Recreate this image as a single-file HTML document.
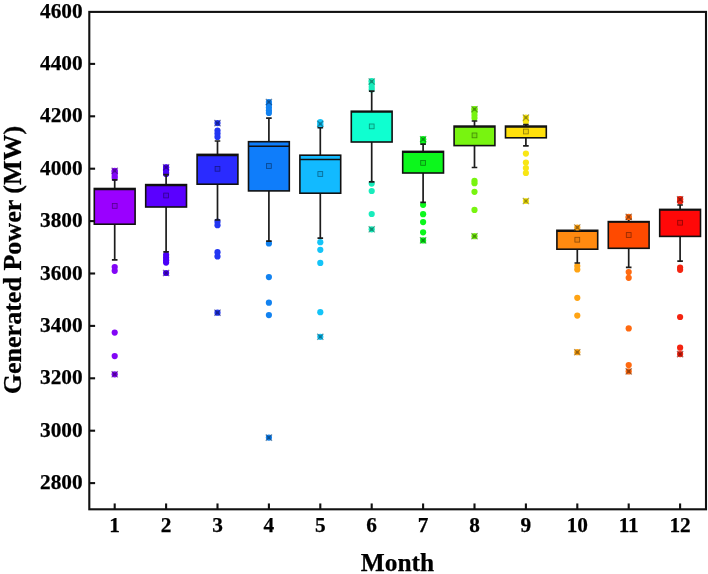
<!DOCTYPE html>
<html><head><meta charset="utf-8"><title>Generated Power by Month</title>
<style>
html,body{margin:0;padding:0;background:#fff;}
body{width:708px;height:574px;position:relative;overflow:hidden;font-family:"Liberation Serif",serif;}
.t{font-family:"Liberation Serif",serif;font-weight:bold;fill:#000;stroke:#000;stroke-width:0.25px;}
</style></head><body>
<svg width="708" height="574" viewBox="0 0 708 574" style="position:absolute;left:0;top:0;filter:blur(0.4px)">
<rect x="0" y="0" width="708" height="574" fill="#fff"/>
<circle cx="114.7" cy="171.5" r="3.1" fill="#8206f6"/>
<circle cx="114.7" cy="173.5" r="3.1" fill="#8206f6"/>
<circle cx="114.7" cy="176.0" r="3.1" fill="#8206f6"/>
<circle cx="114.7" cy="178.0" r="3.1" fill="#8206f6"/>
<circle cx="114.7" cy="267.0" r="3.1" fill="#8206f6"/>
<circle cx="114.7" cy="270.8" r="3.1" fill="#8206f6"/>
<circle cx="114.7" cy="332.6" r="3.1" fill="#8206f6"/>
<circle cx="114.7" cy="356.1" r="3.1" fill="#8206f6"/>
<path d="M114.7 179.8V188.5M114.7 224.2V259.9M111.9 179.8h5.6M111.9 259.9h5.6" stroke="#1c1c1c" stroke-width="1.7" fill="none"/>
<rect x="94.3" y="188.5" width="40.8" height="35.7" fill="#9a00ff" stroke="#111" stroke-width="1.6"/>
<path d="M94.3 189.4h40.8" stroke="#111" stroke-width="1.5"/>
<rect x="112.3" y="203.5" width="4.8" height="4.8" fill="#54008c" fill-opacity="0.15" stroke="#54008c" stroke-width="0.8"/>
<circle cx="114.7" cy="170.8" r="3.1" fill="#8206f6"/>
<path d="M111.6 167.7l6.2 6.2M111.6 173.9l6.2 -6.2" stroke="#41037b" stroke-width="1.3" stroke-opacity="0.6" fill="none"/>
<circle cx="114.7" cy="170.8" r="1.7" fill="#41037b" fill-opacity="0.5"/>
<circle cx="114.7" cy="374.3" r="3.1" fill="#8206f6"/>
<path d="M111.6 371.2l6.2 6.2M111.6 377.4l6.2 -6.2" stroke="#41037b" stroke-width="1.3" stroke-opacity="0.6" fill="none"/>
<circle cx="114.7" cy="374.3" r="1.7" fill="#41037b" fill-opacity="0.5"/>
<circle cx="166.1" cy="167.5" r="3.1" fill="#4a00f8"/>
<circle cx="166.1" cy="170.0" r="3.1" fill="#4a00f8"/>
<circle cx="166.1" cy="172.5" r="3.1" fill="#4a00f8"/>
<circle cx="166.1" cy="174.0" r="3.1" fill="#4a00f8"/>
<circle cx="166.1" cy="254.8" r="3.1" fill="#4a00f8"/>
<circle cx="166.1" cy="257.5" r="3.1" fill="#4a00f8"/>
<circle cx="166.1" cy="260.2" r="3.1" fill="#4a00f8"/>
<circle cx="166.1" cy="262.6" r="3.1" fill="#4a00f8"/>
<path d="M166.1 174.6V184.6M166.1 207.0V251.8M163.3 174.6h5.6M163.3 251.8h5.6" stroke="#1c1c1c" stroke-width="1.7" fill="none"/>
<rect x="145.7" y="184.6" width="40.8" height="22.4" fill="#5a00ff" stroke="#111" stroke-width="1.6"/>
<path d="M145.7 185.4h40.8" stroke="#111" stroke-width="1.5"/>
<rect x="163.7" y="193.1" width="4.8" height="4.8" fill="#31008c" fill-opacity="0.15" stroke="#31008c" stroke-width="0.8"/>
<circle cx="166.1" cy="167.3" r="3.1" fill="#4a00f8"/>
<path d="M163.0 164.2l6.2 6.2M163.0 170.4l6.2 -6.2" stroke="#25007c" stroke-width="1.3" stroke-opacity="0.6" fill="none"/>
<circle cx="166.1" cy="167.3" r="1.7" fill="#25007c" fill-opacity="0.5"/>
<circle cx="166.1" cy="273.0" r="3.1" fill="#4a00f8"/>
<path d="M163.0 269.9l6.2 6.2M163.0 276.1l6.2 -6.2" stroke="#25007c" stroke-width="1.3" stroke-opacity="0.6" fill="none"/>
<circle cx="166.1" cy="273.0" r="1.7" fill="#25007c" fill-opacity="0.5"/>
<circle cx="217.5" cy="130.6" r="3.1" fill="#2236f2"/>
<circle cx="217.5" cy="133.6" r="3.1" fill="#2236f2"/>
<circle cx="217.5" cy="136.9" r="3.1" fill="#2236f2"/>
<circle cx="217.5" cy="221.7" r="3.1" fill="#2236f2"/>
<circle cx="217.5" cy="225.2" r="3.1" fill="#2236f2"/>
<circle cx="217.5" cy="252.2" r="3.1" fill="#2236f2"/>
<circle cx="217.5" cy="256.4" r="3.1" fill="#2236f2"/>
<path d="M217.5 141.0V154.4M217.5 184.2V220.0M214.7 141.0h5.6M214.7 220.0h5.6" stroke="#1c1c1c" stroke-width="1.7" fill="none"/>
<rect x="197.1" y="154.4" width="40.8" height="29.8" fill="#2a2bff" stroke="#111" stroke-width="1.6"/>
<path d="M197.1 155.6h40.8" stroke="#111" stroke-width="1.5"/>
<rect x="215.1" y="166.4" width="4.8" height="4.8" fill="#17178c" fill-opacity="0.15" stroke="#17178c" stroke-width="0.8"/>
<circle cx="217.5" cy="123.1" r="3.1" fill="#2236f2"/>
<path d="M214.4 120.0l6.2 6.2M214.4 126.2l6.2 -6.2" stroke="#111b79" stroke-width="1.3" stroke-opacity="0.6" fill="none"/>
<circle cx="217.5" cy="123.1" r="1.7" fill="#111b79" fill-opacity="0.5"/>
<circle cx="217.5" cy="312.7" r="3.1" fill="#2236f2"/>
<path d="M214.4 309.6l6.2 6.2M214.4 315.8l6.2 -6.2" stroke="#111b79" stroke-width="1.3" stroke-opacity="0.6" fill="none"/>
<circle cx="217.5" cy="312.7" r="1.7" fill="#111b79" fill-opacity="0.5"/>
<circle cx="268.9" cy="104.5" r="3.1" fill="#1282f0"/>
<circle cx="268.9" cy="107.5" r="3.1" fill="#1282f0"/>
<circle cx="268.9" cy="110.5" r="3.1" fill="#1282f0"/>
<circle cx="268.9" cy="113.0" r="3.1" fill="#1282f0"/>
<circle cx="268.9" cy="243.4" r="3.1" fill="#1282f0"/>
<circle cx="268.9" cy="277.1" r="3.1" fill="#1282f0"/>
<circle cx="268.9" cy="302.7" r="3.1" fill="#1282f0"/>
<circle cx="268.9" cy="315.1" r="3.1" fill="#1282f0"/>
<path d="M268.9 118.2V141.7M268.9 190.9V241.2M266.1 118.2h5.6M266.1 241.2h5.6" stroke="#1c1c1c" stroke-width="1.7" fill="none"/>
<rect x="248.5" y="141.7" width="40.8" height="49.2" fill="#0f7dfa" stroke="#111" stroke-width="1.6"/>
<path d="M248.5 146.3h40.8" stroke="#111" stroke-width="1.5"/>
<rect x="266.5" y="163.6" width="4.8" height="4.8" fill="#084489" fill-opacity="0.15" stroke="#084489" stroke-width="0.8"/>
<circle cx="268.9" cy="102.0" r="3.1" fill="#1282f0"/>
<path d="M265.8 98.9l6.2 6.2M265.8 105.1l6.2 -6.2" stroke="#094178" stroke-width="1.3" stroke-opacity="0.6" fill="none"/>
<circle cx="268.9" cy="102.0" r="1.7" fill="#094178" fill-opacity="0.5"/>
<circle cx="268.9" cy="437.6" r="3.1" fill="#1282f0"/>
<path d="M265.8 434.5l6.2 6.2M265.8 440.7l6.2 -6.2" stroke="#094178" stroke-width="1.3" stroke-opacity="0.6" fill="none"/>
<circle cx="268.9" cy="437.6" r="1.7" fill="#094178" fill-opacity="0.5"/>
<circle cx="320.3" cy="122.0" r="3.1" fill="#14c4f8"/>
<circle cx="320.3" cy="125.5" r="3.1" fill="#14c4f8"/>
<circle cx="320.3" cy="242.2" r="3.1" fill="#14c4f8"/>
<circle cx="320.3" cy="249.8" r="3.1" fill="#14c4f8"/>
<circle cx="320.3" cy="262.9" r="3.1" fill="#14c4f8"/>
<circle cx="320.3" cy="312.2" r="3.1" fill="#14c4f8"/>
<path d="M320.3 127.6V155.2M320.3 193.2V238.1M317.5 127.6h5.6M317.5 238.1h5.6" stroke="#1c1c1c" stroke-width="1.7" fill="none"/>
<rect x="299.9" y="155.2" width="40.8" height="38.0" fill="#12baff" stroke="#111" stroke-width="1.6"/>
<path d="M299.9 159.4h40.8" stroke="#111" stroke-width="1.5"/>
<rect x="317.9" y="171.6" width="4.8" height="4.8" fill="#09668c" fill-opacity="0.15" stroke="#09668c" stroke-width="0.8"/>
<circle cx="320.3" cy="123.9" r="3.1" fill="#14c4f8"/>
<path d="M317.2 120.8l6.2 6.2M317.2 127.0l6.2 -6.2" stroke="#0a627c" stroke-width="1.3" stroke-opacity="0.6" fill="none"/>
<circle cx="320.3" cy="123.9" r="1.7" fill="#0a627c" fill-opacity="0.5"/>
<circle cx="320.3" cy="336.8" r="3.1" fill="#14c4f8"/>
<path d="M317.2 333.7l6.2 6.2M317.2 339.9l6.2 -6.2" stroke="#0a627c" stroke-width="1.3" stroke-opacity="0.6" fill="none"/>
<circle cx="320.3" cy="336.8" r="1.7" fill="#0a627c" fill-opacity="0.5"/>
<circle cx="371.7" cy="81.0" r="3.1" fill="#18ecbc"/>
<circle cx="371.7" cy="84.0" r="3.1" fill="#18ecbc"/>
<circle cx="371.7" cy="87.0" r="3.1" fill="#18ecbc"/>
<circle cx="371.7" cy="89.5" r="3.1" fill="#18ecbc"/>
<circle cx="371.7" cy="183.6" r="3.1" fill="#18ecbc"/>
<circle cx="371.7" cy="191.0" r="3.1" fill="#18ecbc"/>
<circle cx="371.7" cy="214.0" r="3.1" fill="#18ecbc"/>
<path d="M371.7 91.2V111.2M371.7 142.0V181.9M368.9 91.2h5.6M368.9 181.9h5.6" stroke="#1c1c1c" stroke-width="1.7" fill="none"/>
<rect x="351.3" y="111.2" width="40.8" height="30.8" fill="#0fffd0" stroke="#111" stroke-width="1.6"/>
<path d="M351.3 111.9h40.8" stroke="#111" stroke-width="1.5"/>
<rect x="369.3" y="124.0" width="4.8" height="4.8" fill="#088c72" fill-opacity="0.15" stroke="#088c72" stroke-width="0.8"/>
<circle cx="371.7" cy="81.5" r="3.1" fill="#18ecbc"/>
<path d="M368.6 78.4l6.2 6.2M368.6 84.6l6.2 -6.2" stroke="#0c765e" stroke-width="1.3" stroke-opacity="0.6" fill="none"/>
<circle cx="371.7" cy="81.5" r="1.7" fill="#0c765e" fill-opacity="0.5"/>
<circle cx="371.7" cy="229.3" r="3.1" fill="#18ecbc"/>
<path d="M368.6 226.2l6.2 6.2M368.6 232.4l6.2 -6.2" stroke="#0c765e" stroke-width="1.3" stroke-opacity="0.6" fill="none"/>
<circle cx="371.7" cy="229.3" r="1.7" fill="#0c765e" fill-opacity="0.5"/>
<circle cx="423.1" cy="139.5" r="3.1" fill="#0cf71c"/>
<circle cx="423.1" cy="142.0" r="3.1" fill="#0cf71c"/>
<circle cx="423.1" cy="204.8" r="3.1" fill="#0cf71c"/>
<circle cx="423.1" cy="214.2" r="3.1" fill="#0cf71c"/>
<circle cx="423.1" cy="222.1" r="3.1" fill="#0cf71c"/>
<circle cx="423.1" cy="232.3" r="3.1" fill="#0cf71c"/>
<path d="M423.1 144.2V151.4M423.1 173.0V202.3M420.3 144.2h5.6M420.3 202.3h5.6" stroke="#1c1c1c" stroke-width="1.7" fill="none"/>
<rect x="402.7" y="151.4" width="40.8" height="21.6" fill="#0cf71c" stroke="#111" stroke-width="1.6"/>
<path d="M402.7 152.2h40.8" stroke="#111" stroke-width="1.5"/>
<rect x="420.7" y="160.5" width="4.8" height="4.8" fill="#06870f" fill-opacity="0.15" stroke="#06870f" stroke-width="0.8"/>
<circle cx="423.1" cy="139.2" r="3.1" fill="#0cf71c"/>
<path d="M420.0 136.1l6.2 6.2M420.0 142.3l6.2 -6.2" stroke="#067b0e" stroke-width="1.3" stroke-opacity="0.6" fill="none"/>
<circle cx="423.1" cy="139.2" r="1.7" fill="#067b0e" fill-opacity="0.5"/>
<circle cx="423.1" cy="240.4" r="3.1" fill="#0cf71c"/>
<path d="M420.0 237.3l6.2 6.2M420.0 243.5l6.2 -6.2" stroke="#067b0e" stroke-width="1.3" stroke-opacity="0.6" fill="none"/>
<circle cx="423.1" cy="240.4" r="1.7" fill="#067b0e" fill-opacity="0.5"/>
<circle cx="474.5" cy="109.0" r="3.1" fill="#78f410"/>
<circle cx="474.5" cy="112.0" r="3.1" fill="#78f410"/>
<circle cx="474.5" cy="115.0" r="3.1" fill="#78f410"/>
<circle cx="474.5" cy="118.0" r="3.1" fill="#78f410"/>
<circle cx="474.5" cy="180.8" r="3.1" fill="#78f410"/>
<circle cx="474.5" cy="183.2" r="3.1" fill="#78f410"/>
<circle cx="474.5" cy="191.8" r="3.1" fill="#78f410"/>
<circle cx="474.5" cy="209.9" r="3.1" fill="#78f410"/>
<path d="M474.5 121.0V126.1M474.5 145.6V167.5M471.7 121.0h5.6M471.7 167.5h5.6" stroke="#1c1c1c" stroke-width="1.7" fill="none"/>
<rect x="454.1" y="126.1" width="40.8" height="19.5" fill="#78f410" stroke="#111" stroke-width="1.6"/>
<path d="M454.1 127.0h40.8" stroke="#111" stroke-width="1.5"/>
<rect x="472.1" y="133.0" width="4.8" height="4.8" fill="#428608" fill-opacity="0.15" stroke="#428608" stroke-width="0.8"/>
<circle cx="474.5" cy="109.2" r="3.1" fill="#78f410"/>
<path d="M471.4 106.1l6.2 6.2M471.4 112.3l6.2 -6.2" stroke="#3c7a08" stroke-width="1.3" stroke-opacity="0.6" fill="none"/>
<circle cx="474.5" cy="109.2" r="1.7" fill="#3c7a08" fill-opacity="0.5"/>
<circle cx="474.5" cy="236.2" r="3.1" fill="#78f410"/>
<path d="M471.4 233.1l6.2 6.2M471.4 239.3l6.2 -6.2" stroke="#3c7a08" stroke-width="1.3" stroke-opacity="0.6" fill="none"/>
<circle cx="474.5" cy="236.2" r="1.7" fill="#3c7a08" fill-opacity="0.5"/>
<circle cx="525.9" cy="121.5" r="3.1" fill="#f8e614"/>
<circle cx="525.9" cy="153.6" r="3.1" fill="#f8e614"/>
<circle cx="525.9" cy="162.5" r="3.1" fill="#f8e614"/>
<circle cx="525.9" cy="168.0" r="3.1" fill="#f8e614"/>
<circle cx="525.9" cy="173.0" r="3.1" fill="#f8e614"/>
<path d="M525.9 124.7V126.1M525.9 137.8V145.9M523.1 124.7h5.6M523.1 145.9h5.6" stroke="#1c1c1c" stroke-width="1.7" fill="none"/>
<rect x="505.5" y="126.1" width="40.8" height="11.7" fill="#ffe00c" stroke="#111" stroke-width="1.6"/>
<path d="M505.5 127.0h40.8" stroke="#111" stroke-width="1.5"/>
<rect x="523.5" y="129.1" width="4.8" height="4.8" fill="#8c7b06" fill-opacity="0.15" stroke="#8c7b06" stroke-width="0.8"/>
<circle cx="525.9" cy="117.6" r="3.1" fill="#f8e614"/>
<path d="M522.8 114.5l6.2 6.2M522.8 120.7l6.2 -6.2" stroke="#7c730a" stroke-width="1.3" stroke-opacity="0.6" fill="none"/>
<circle cx="525.9" cy="117.6" r="1.7" fill="#7c730a" fill-opacity="0.5"/>
<circle cx="525.9" cy="201.0" r="3.1" fill="#f8e614"/>
<path d="M522.8 197.9l6.2 6.2M522.8 204.1l6.2 -6.2" stroke="#7c730a" stroke-width="1.3" stroke-opacity="0.6" fill="none"/>
<circle cx="525.9" cy="201.0" r="1.7" fill="#7c730a" fill-opacity="0.5"/>
<circle cx="577.3" cy="266.0" r="3.1" fill="#ffa414"/>
<circle cx="577.3" cy="269.5" r="3.1" fill="#ffa414"/>
<circle cx="577.3" cy="297.8" r="3.1" fill="#ffa414"/>
<circle cx="577.3" cy="315.6" r="3.1" fill="#ffa414"/>
<path d="M577.3 229.5V230.3M577.3 249.2V263.0M574.5 229.5h5.6M574.5 263.0h5.6" stroke="#1c1c1c" stroke-width="1.7" fill="none"/>
<rect x="556.9" y="230.3" width="40.8" height="18.9" fill="#ff8a10" stroke="#111" stroke-width="1.6"/>
<path d="M556.9 231.2h40.8" stroke="#111" stroke-width="1.5"/>
<rect x="574.9" y="237.3" width="4.8" height="4.8" fill="#8c4b08" fill-opacity="0.15" stroke="#8c4b08" stroke-width="0.8"/>
<circle cx="577.3" cy="227.5" r="3.1" fill="#ffa414"/>
<path d="M574.2 224.4l6.2 6.2M574.2 230.6l6.2 -6.2" stroke="#7f520a" stroke-width="1.3" stroke-opacity="0.6" fill="none"/>
<circle cx="577.3" cy="227.5" r="1.7" fill="#7f520a" fill-opacity="0.5"/>
<circle cx="577.3" cy="352.2" r="3.1" fill="#ffa414"/>
<path d="M574.2 349.1l6.2 6.2M574.2 355.3l6.2 -6.2" stroke="#7f520a" stroke-width="1.3" stroke-opacity="0.6" fill="none"/>
<circle cx="577.3" cy="352.2" r="1.7" fill="#7f520a" fill-opacity="0.5"/>
<circle cx="628.7" cy="217.3" r="3.1" fill="#ff6a10"/>
<circle cx="628.7" cy="272.0" r="3.1" fill="#ff6a10"/>
<circle cx="628.7" cy="277.8" r="3.1" fill="#ff6a10"/>
<circle cx="628.7" cy="328.4" r="3.1" fill="#ff6a10"/>
<circle cx="628.7" cy="365.0" r="3.1" fill="#ff6a10"/>
<path d="M628.7 218.8V221.6M628.7 248.3V267.4M625.9 218.8h5.6M625.9 267.4h5.6" stroke="#1c1c1c" stroke-width="1.7" fill="none"/>
<rect x="608.3" y="221.6" width="40.8" height="26.7" fill="#ff4a00" stroke="#111" stroke-width="1.6"/>
<path d="M608.3 222.1h40.8" stroke="#111" stroke-width="1.5"/>
<rect x="626.3" y="232.6" width="4.8" height="4.8" fill="#8c2800" fill-opacity="0.15" stroke="#8c2800" stroke-width="0.8"/>
<circle cx="628.7" cy="216.9" r="3.1" fill="#ff6a10"/>
<path d="M625.6 213.8l6.2 6.2M625.6 220.0l6.2 -6.2" stroke="#7f3508" stroke-width="1.3" stroke-opacity="0.6" fill="none"/>
<circle cx="628.7" cy="216.9" r="1.7" fill="#7f3508" fill-opacity="0.5"/>
<circle cx="628.7" cy="371.4" r="3.1" fill="#ff6a10"/>
<path d="M625.6 368.3l6.2 6.2M625.6 374.5l6.2 -6.2" stroke="#7f3508" stroke-width="1.3" stroke-opacity="0.6" fill="none"/>
<circle cx="628.7" cy="371.4" r="1.7" fill="#7f3508" fill-opacity="0.5"/>
<circle cx="680.1" cy="199.0" r="3.1" fill="#f42410"/>
<circle cx="680.1" cy="201.5" r="3.1" fill="#f42410"/>
<circle cx="680.1" cy="267.5" r="3.1" fill="#f42410"/>
<circle cx="680.1" cy="269.8" r="3.1" fill="#f42410"/>
<circle cx="680.1" cy="317.0" r="3.1" fill="#f42410"/>
<circle cx="680.1" cy="347.7" r="3.1" fill="#f42410"/>
<path d="M680.1 205.0V209.4M680.1 236.4V261.2M677.3 205.0h5.6M677.3 261.2h5.6" stroke="#1c1c1c" stroke-width="1.7" fill="none"/>
<rect x="659.7" y="209.4" width="40.8" height="27.0" fill="#ff0808" stroke="#111" stroke-width="1.6"/>
<path d="M659.7 210.0h40.8" stroke="#111" stroke-width="1.5"/>
<rect x="677.7" y="220.3" width="4.8" height="4.8" fill="#8c0404" fill-opacity="0.15" stroke="#8c0404" stroke-width="0.8"/>
<circle cx="680.1" cy="199.4" r="3.1" fill="#f42410"/>
<path d="M677.0 196.3l6.2 6.2M677.0 202.5l6.2 -6.2" stroke="#7a1208" stroke-width="1.3" stroke-opacity="0.6" fill="none"/>
<circle cx="680.1" cy="199.4" r="1.7" fill="#7a1208" fill-opacity="0.5"/>
<circle cx="680.1" cy="354.1" r="3.1" fill="#f42410"/>
<path d="M677.0 351.0l6.2 6.2M677.0 357.2l6.2 -6.2" stroke="#7a1208" stroke-width="1.3" stroke-opacity="0.6" fill="none"/>
<circle cx="680.1" cy="354.1" r="1.7" fill="#7a1208" fill-opacity="0.5"/>
<rect x="89.3" y="11.9" width="616.7" height="497.4" fill="none" stroke="#111" stroke-width="2.1"/>
<path d="M89.3 63.9h5.8" stroke="#111" stroke-width="2.1"/>
<path d="M89.3 116.3h5.8" stroke="#111" stroke-width="2.1"/>
<path d="M89.3 168.7h5.8" stroke="#111" stroke-width="2.1"/>
<path d="M89.3 221.1h5.8" stroke="#111" stroke-width="2.1"/>
<path d="M89.3 273.5h5.8" stroke="#111" stroke-width="2.1"/>
<path d="M89.3 325.9h5.8" stroke="#111" stroke-width="2.1"/>
<path d="M89.3 378.3h5.8" stroke="#111" stroke-width="2.1"/>
<path d="M89.3 430.7h5.8" stroke="#111" stroke-width="2.1"/>
<path d="M89.3 483.1h5.8" stroke="#111" stroke-width="2.1"/>
<path d="M114.7 509.25v-5.8" stroke="#111" stroke-width="2.1"/>
<path d="M166.1 509.25v-5.8" stroke="#111" stroke-width="2.1"/>
<path d="M217.5 509.25v-5.8" stroke="#111" stroke-width="2.1"/>
<path d="M268.9 509.25v-5.8" stroke="#111" stroke-width="2.1"/>
<path d="M320.3 509.25v-5.8" stroke="#111" stroke-width="2.1"/>
<path d="M371.7 509.25v-5.8" stroke="#111" stroke-width="2.1"/>
<path d="M423.1 509.25v-5.8" stroke="#111" stroke-width="2.1"/>
<path d="M474.5 509.25v-5.8" stroke="#111" stroke-width="2.1"/>
<path d="M525.9 509.25v-5.8" stroke="#111" stroke-width="2.1"/>
<path d="M577.3 509.25v-5.8" stroke="#111" stroke-width="2.1"/>
<path d="M628.7 509.25v-5.8" stroke="#111" stroke-width="2.1"/>
<path d="M680.1 509.25v-5.8" stroke="#111" stroke-width="2.1"/>
<text x="82.6" y="17.65" text-anchor="end" class="t" font-size="21.3">4600</text>
<text x="82.6" y="70.05" text-anchor="end" class="t" font-size="21.3">4400</text>
<text x="82.6" y="122.45" text-anchor="end" class="t" font-size="21.3">4200</text>
<text x="82.6" y="174.85" text-anchor="end" class="t" font-size="21.3">4000</text>
<text x="82.6" y="227.25" text-anchor="end" class="t" font-size="21.3">3800</text>
<text x="82.6" y="279.65" text-anchor="end" class="t" font-size="21.3">3600</text>
<text x="82.6" y="332.05" text-anchor="end" class="t" font-size="21.3">3400</text>
<text x="82.6" y="384.45" text-anchor="end" class="t" font-size="21.3">3200</text>
<text x="82.6" y="436.85" text-anchor="end" class="t" font-size="21.3">3000</text>
<text x="82.6" y="489.25" text-anchor="end" class="t" font-size="21.3">2800</text>
<text x="114.7" y="532.4" text-anchor="middle" class="t" font-size="21.3">1</text>
<text x="166.1" y="532.4" text-anchor="middle" class="t" font-size="21.3">2</text>
<text x="217.5" y="532.4" text-anchor="middle" class="t" font-size="21.3">3</text>
<text x="268.9" y="532.4" text-anchor="middle" class="t" font-size="21.3">4</text>
<text x="320.3" y="532.4" text-anchor="middle" class="t" font-size="21.3">5</text>
<text x="371.7" y="532.4" text-anchor="middle" class="t" font-size="21.3">6</text>
<text x="423.1" y="532.4" text-anchor="middle" class="t" font-size="21.3">7</text>
<text x="474.5" y="532.4" text-anchor="middle" class="t" font-size="21.3">8</text>
<text x="525.9" y="532.4" text-anchor="middle" class="t" font-size="21.3">9</text>
<text x="577.3" y="532.4" text-anchor="middle" class="t" font-size="21.3">10</text>
<text x="628.7" y="532.4" text-anchor="middle" class="t" font-size="21.3">11</text>
<text x="680.1" y="532.4" text-anchor="middle" class="t" font-size="21.3">12</text>
<text x="397.5" y="570.8" text-anchor="middle" class="t" font-size="25.4">Month</text>
<text transform="translate(20.7 260) rotate(-90)" text-anchor="middle" class="t" font-size="26.05">Generated Power (MW)</text>
</svg>
</body></html>
